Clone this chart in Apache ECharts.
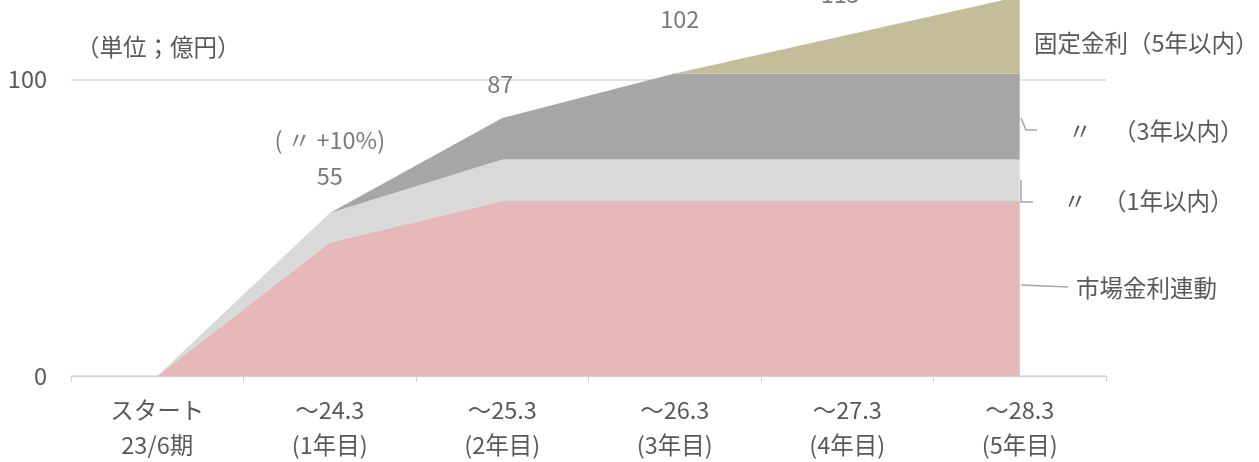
<!DOCTYPE html>
<html lang="ja">
<head>
<meta charset="utf-8">
<title>調達金利の構成</title>
<script src="https://cdn.jsdelivr.net/npm/echarts@6/dist/echarts.min.js"></script>
<style>
  html, body { margin: 0; padding: 0; background: #ffffff; }
  #chart { width: 1259px; height: 462px; }
</style>
</head>
<body>
<div id="chart"></div>
<script>
// 期間（横軸）
const categories = [
  'スタート\n23/6期',
  '～24.3\n(1年目)',
  '～25.3\n(2年目)',
  '～26.3\n(3年目)',
  '～27.3\n(4年目)',
  '～28.3\n(5年目)'
];
// 金利タイプ別残高（億円）
const marketLinked = [0, 45, 59, 59, 59, 59];   // 市場金利連動
const fixed1y      = [0, 10, 14, 14, 14, 14];   // 固定金利（1年以内）
const fixed3y      = [0, 0, 14, 29, 29, 29];    // 固定金利（3年以内）
const fixed5y      = [0, 0, 0, 0, 13, 26];      // 固定金利（5年以内）
// 合計ラベルの注記
const totalNotes   = ['', '( 〃 +10%)', '', '', '', ''];
// 縦軸目盛
const yTicks = [0, 100];

const FONT = '"Noto Sans CJK JP", "Noto Sans", sans-serif';
const TEXT = '#595959';
const FS = 23.5;

const totals = categories.map((_, i) => marketLinked[i] + fixed1y[i] + fixed3y[i] + fixed5y[i]);

function areaSeries(name, data, color) {
  return {
    name, type: 'line', stack: 'total', data,
    symbol: 'none', smooth: false,
    lineStyle: { width: 0 },
    areaStyle: { color, opacity: 1 },
    emphasis: { disabled: true },
    silent: true
  };
}

// 合計ラベルの位置調整 [dx, dy]
const labelNudge = [[0, 0], [0, -18], [-2, -15], [5, -36], [-7, -22], [0, -20]];

function note(x, y, text, align) {
  return {
    type: 'text', x, y, silent: true,
    style: {
      text, font: FS + 'px ' + FONT, fill: TEXT,
      align: align || 'left', verticalAlign: 'middle',
      textAlign: align || 'left', textVerticalAlign: 'middle'
    }
  };
}

function leader(points) {
  return { type: 'polyline', silent: true, shape: { points },
           style: { stroke: '#a6a6a6', lineWidth: 1.5, fill: null } };
}

const chart = echarts.init(document.getElementById('chart'), null, { renderer: 'canvas' });

chart.setOption({
  animation: false,
  backgroundColor: '#ffffff',
  textStyle: { fontFamily: FONT, color: TEXT },
  grid: { left: 71, right: 153, top: -9.5, bottom: 86, outerBoundsMode: 'none', containLabel: false },
  xAxis: {
    type: 'category',
    data: categories,
    boundaryGap: true,
    axisLine: { lineStyle: { color: '#d0d0d0', width: 1 } },
    axisTick: { show: true, alignWithLabel: false, length: 6, lineStyle: { color: '#d0d0d0' } },
    axisLabel: { fontFamily: FONT, fontSize: FS, color: TEXT, lineHeight: 35, margin: 17, interval: 0 },
    splitLine: { show: false }
  },
  yAxis: {
    type: 'value',
    min: 0, max: 130, interval: 100,
    axisLine: { show: false },
    axisTick: { show: false },
    axisLabel: {
      fontFamily: FONT, fontSize: FS, color: TEXT, margin: 24,
      formatter: v => (yTicks.includes(v) ? String(v) : '')
    },
    splitLine: { show: true, showMaxLine: false, lineStyle: { color: '#d9d9d9', width: 1.5 } }
  },
  series: [
    areaSeries('市場金利連動', marketLinked, '#e6b8b7'),
    areaSeries('固定金利（1年以内）', fixed1y, '#d9d9d9'),
    areaSeries('固定金利（3年以内）', fixed3y, '#a6a6a6'),
    areaSeries('固定金利（5年以内）', fixed5y, '#c4bd97'),
    {
      name: '合計', type: 'scatter', clip: false, silent: true,
      symbol: 'circle', symbolSize: 1,
      itemStyle: { color: 'rgba(0,0,0,0)' },
      data: totals.map((v, i) => ({
        value: v,
        label: { offset: labelNudge[i] }
      })),
      label: {
        show: true, position: 'top', distance: 0,
        fontFamily: FONT, fontSize: FS, color: TEXT, lineHeight: 36, align: 'center',
        formatter: p => {
          if (!p.value) return '';
          const n = totalNotes[p.dataIndex];
          return n ? n + '\n' + p.value : String(p.value);
        }
      },
      z: 10
    }
  ],
  graphic: [
    note(76, 47, '（単位；億円）'),
    note(1034, 43, '固定金利（5年以内）'),
    note(1080, 131, '〃', 'center'),
    note(1113, 131, '（3年以内）'),
    note(1075, 201, '〃', 'center'),
    note(1103, 201, '（1年以内）'),
    note(1076, 288, '市場金利連動'),
    leader([[1021, 118], [1026, 130], [1037, 130]]),
    leader([[1021, 180], [1021, 202], [1033, 202]]),
    leader([[1021, 285], [1068, 287]])
  ]
});
</script>
</body>
</html>
